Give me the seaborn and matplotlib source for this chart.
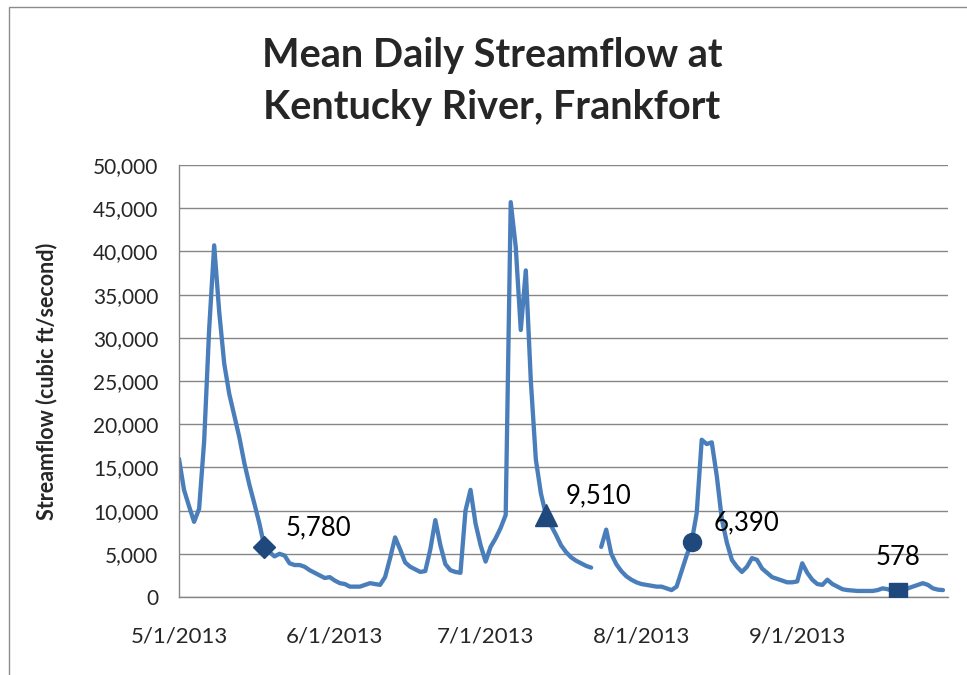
import matplotlib
matplotlib.use('Agg')
import matplotlib.pyplot as plt
from matplotlib.patches import Rectangle
from matplotlib.ticker import FuncFormatter
import numpy as np
import pandas as pd
import seaborn as sns

# mean daily streamflow, cubic ft/second, one value per day
start_date = '2013-05-01'
may_flow = [16000, 12400, 10500, 8700, 10200, 18000, 31000, 40700, 33000, 27000,
            23500, 21000, 18500, 15500, 13000, 10800, 8500, 5780, 5200, 4700,
            5000, 4800, 3900, 3700, 3700, 3500, 3100, 2800, 2500, 2200, 2300]
jun_flow = [1900, 1600, 1500, 1200, 1200, 1200, 1400, 1600, 1500, 1400,
            2300, 4500, 6900, 5500, 4000, 3500, 3200, 2900, 3000, 5500,
            8900, 6000, 3800, 3100, 2900, 2800, 10000, 12400, 8500, 6000]
jul_flow = [4100, 5800, 6800, 8000, 9500, 45700, 40500, 30900, 37800, 25000,
            15900, 12000, 9510, 8300, 7200, 6000, 5200, 4600, 4200, 3900,
            3600, 3400, np.nan, 5800, 7800, 5000, 3800, 3000, 2400, 2000, 1700]
aug_flow = [1500, 1400, 1300, 1200, 1200, 1000, 800, 1200, 3000, 4800,
            6390, 9700, 18200, 17700, 17900, 14000, 9000, 6300, 4300, 3500,
            2900, 3500, 4500, 4300, 3300, 2800, 2300, 2100, 1900, 1700, 1700]
sep_flow = [1800, 3900, 2800, 2000, 1500, 1400, 2000, 1500, 1200, 900,
            800, 750, 700, 700, 700, 700, 800, 1000, 900, 700,
            578, 800, 1000, 1200, 1400, 1600, 1400, 1000, 850, 800]

marker_dates = ['2013-05-18', '2013-07-13', '2013-08-11', '2013-09-21']
marker_values = [5780, 9510, 6390, 578]
marker_labels = ['5,780', '9,510', '6,390', '578']
marker_shapes = ['D', '^', 'o', 's']

month_ticks = ['2013-05-01', '2013-06-01', '2013-07-01', '2013-08-01', '2013-09-01', '2013-10-01']
month_labels = ['5/1/2013', '6/1/2013', '7/1/2013', '8/1/2013', '9/1/2013', '']
y_ticks = [0, 5000, 10000, 15000, 20000, 25000, 30000, 35000, 40000, 45000, 50000]

flow = may_flow + jun_flow + jul_flow + aug_flow + sep_flow
df = pd.DataFrame({'date': pd.date_range(start_date, periods=len(flow)), 'flow': flow})
df['segment'] = df['flow'].isna().cumsum()
df = df.dropna()

sns.set_style('white')
plt.rcParams['font.family'] = ['Lato', 'DejaVu Sans']

line_col = '#4A7EBB'
mark_col = '#1F497D'
grid_col = '#868686'

fig = plt.figure(figsize=(9.67, 6.75), dpi=100)
ax = fig.add_axes([179 / 967, 78 / 675, 769 / 967, 432 / 675])

sns.lineplot(data=df, x='date', y='flow', units='segment', estimator=None,
             color=line_col, lw=3.1, ax=ax)

sizes = {'D': 11, '^': 16, 'o': 13, 's': 13}
offsets = [(15, 14), (14, 14), (16, 14), (0, 25)]
for d, v, lab, m, off in zip(marker_dates, marker_values, marker_labels, marker_shapes, offsets):
    ax.plot(pd.Timestamp(d), v, marker=m, ms=sizes[m], color=mark_col, mec=mark_col, zorder=5)
    ax.annotate(lab, (pd.Timestamp(d), v), xytext=off, textcoords='offset points',
                ha='center' if off[0] == 0 else 'left', va='center', fontsize=18.5, color='black')

ax.set_xlim(pd.Timestamp(month_ticks[0]), pd.Timestamp(month_ticks[-1]))
ax.set_ylim(0, 50000)
ax.set_xticks([pd.Timestamp(t) for t in month_ticks])
ax.set_xticklabels(month_labels)
ax.set_yticks(y_ticks)
ax.yaxis.set_major_formatter(FuncFormatter(lambda v, p: f'{int(v):,}'))
ax.grid(axis='y', color=grid_col, lw=1)
ax.set_axisbelow(True)
for s in ['top', 'right']:
    ax.spines[s].set_visible(False)
for s in ['left', 'bottom']:
    ax.spines[s].set_color(grid_col)
    ax.spines[s].set_linewidth(1)
ax.tick_params(axis='y', direction='out', length=7, width=1, color=grid_col, pad=8, labelsize=15)
ax.tick_params(axis='x', direction='out', length=5, width=1, color=grid_col, pad=16, labelsize=16)
ax.set_xlabel('')
ax.set_ylabel('Streamflow (cubic ft/second)', fontsize=15.5, fontweight='bold')
ax.yaxis.set_label_coords(-(179 - 57) / 769, 0.5)

fig.text(492 / 967, 1 - 82 / 675, 'Mean Daily Streamflow at\nKentucky River, Frankfort',
         ha='center', va='center', fontsize=28.5, fontweight='bold', linespacing=1.5)

# chart area frame (left and top edges visible)
fig.patches.append(Rectangle((9 / 967, -0.05), 1.1, 1 - 7 / 675 + 0.05, transform=fig.transFigure,
                             fill=False, edgecolor='#8c8c8c', lw=1))

fig.savefig('out.png', dpi=100)
